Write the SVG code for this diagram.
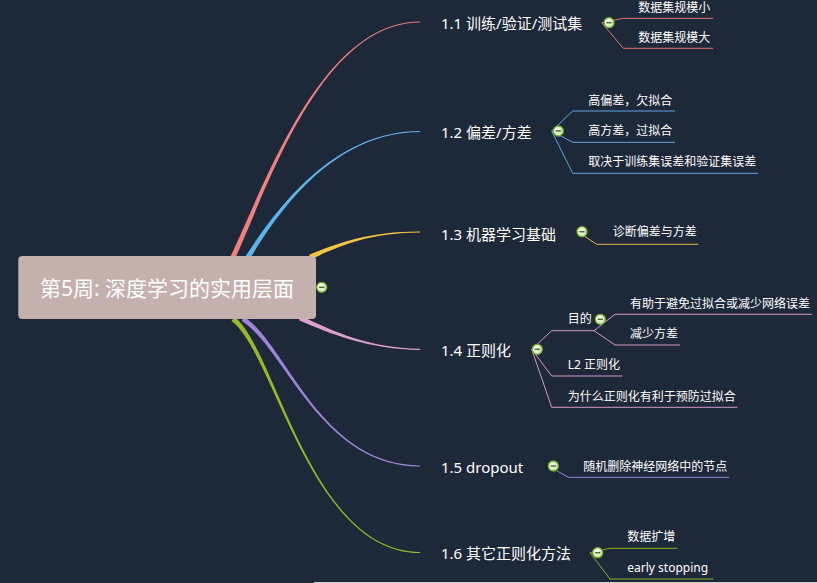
<svg xmlns="http://www.w3.org/2000/svg" xmlns:xlink="http://www.w3.org/1999/xlink" width="817" height="583" viewBox="0 0 817 583">
<style>
.main{font-family:"Noto Sans","Noto Sans CJK SC",sans-serif;font-size:15px;fill:#ffffff}
.sub{font-family:"Noto Sans","Noto Sans CJK SC",sans-serif;font-size:12px;fill:#ffffff}
.root{font-family:"Noto Sans","Noto Sans CJK SC",sans-serif;font-size:21px;fill:#ffffff}
.ln{fill:none;stroke-width:1}
.c1{stroke:#e37474}.c2{stroke:#5aa8e0}.c3{stroke:#e8b650}.c4{stroke:#d49ac4}.c5{stroke:#9a80d2}.c6{stroke:#8fb021}
</style>
<defs>
<radialGradient id="gb" cx="0.4" cy="0.4" r="0.7">
<stop offset="0" stop-color="#ffffff"/>
<stop offset="1" stop-color="#c5e29a"/>
</radialGradient>
<g id="minus">
<circle r="5" fill="url(#gb)" stroke="#6fae2e" stroke-width="1.3"/>
<line x1="-2.6" y1="0" x2="2.6" y2="0" stroke="#4b6b2c" stroke-width="1.5"/>
</g>
</defs>
<rect width="817" height="583" fill="#1d2838"/>
<rect x="314" y="582" width="503" height="1" fill="#cfcfcf"/>

<g id="connectors">
<path d="M235.3,258.1 C266.6,190.8 320,22.7 420,22.6 L420,21.4 C320,21.3 263.4,189.2 230.7,255.9 Z" fill="#f07f7f"/>
<path d="M250.1,258.4 C276.5,216 330,132.7 420,132.1 L420,130.9 C330,131.3 273.5,214 245.9,255.6 Z" fill="#5db3ec"/>
<path d="M310.9,259.3 C340.7,245.6 370,232.7 420,232.6 L420,231.4 C370,231.3 339.3,242.4 309.1,254.7 Z" fill="#f6c445"/>
<path d="M298.9,320.3 C329.3,333.5 370,349.7 420,349.9 L420,348.7 C370,348.3 330.7,330.5 301.1,315.7 Z" fill="#dba0cf"/>
<path d="M241.7,321.1 C284.1,346.4 320,466.7 420,466.6 L420,465.4 C320,465.3 285.9,343.6 244.3,316.9 Z" fill="#9d84d8"/>
<path d="M231.5,321 C274,351.3 310,553.2 420,553.1 L420,551.9 C310,551.8 276,348.7 234.5,317 Z" fill="#98b828"/>

<path class="ln c1" d="M601.7,22.7 L623.3,18.3 L713.3,18.3"/>
<path class="ln c1" d="M601.7,22.7 L623.3,48.3 L713.3,48.3"/>

<path class="ln c2" d="M551.7,131 L572.7,111 L675,111"/>
<path class="ln c2" d="M551.7,131 L572.7,142.3 L675,142.3"/>
<path class="ln c2" d="M551.7,131 L572.7,173.3 L758,173.3"/>

<path class="ln c3" d="M576.7,231 L596.7,244.3 L698.3,244.3"/>

<path class="ln c4" d="M531.7,349.3 L551.7,330.7 L595,330.7"/>
<path class="ln c4" d="M594,330.7 L615,314.3 L812,314.3"/>
<path class="ln c4" d="M594,330.7 L615,345 L680,345"/>
<path class="ln c4" d="M531.7,349.3 L551.7,376 L622.3,376"/>
<path class="ln c4" d="M531.7,349.3 L551.7,407.3 L737.3,407.3"/>

<path class="ln c5" d="M548.3,466 L568.3,477.3 L729.3,477.3"/>

<path class="ln c6" d="M590,552.7 L610,548.3 L677.3,548.3"/>
<path class="ln c6" d="M590,552.7 L610,579 L713.3,579"/>
</g>

<g id="root">
<rect x="18.3" y="256" width="297.7" height="63" rx="4" fill="#c4b1ad"/>
<text class="root" x="167" y="296" text-anchor="middle">第5周: 深度学习的实用层面</text>
<use xlink:href="#minus" x="321.7" y="287.3"/>
</g>

<g id="n1-1">
<text class="main" x="441" y="28.5">1.1 训练/验证/测试集</text>
<use xlink:href="#minus" x="609" y="22.7"/>
</g>
<g id="n1-1-a"><text class="sub" x="638.3" y="12">数据集规模小</text></g>
<g id="n1-1-b"><text class="sub" x="638.3" y="42">数据集规模大</text></g>

<g id="n1-2">
<text class="main" x="441" y="137.5">1.2 偏差/方差</text>
<use xlink:href="#minus" x="558.3" y="131"/>
</g>
<g id="n1-2-a"><text class="sub" x="588.3" y="104.7">高偏差，欠拟合</text></g>
<g id="n1-2-b"><text class="sub" x="588.3" y="135">高方差，过拟合</text></g>
<g id="n1-2-c"><text class="sub" x="588.3" y="166">取决于训练集误差和验证集误差</text></g>

<g id="n1-3">
<text class="main" x="441" y="239.5">1.3 机器学习基础</text>
<use xlink:href="#minus" x="582" y="231.7"/>
</g>
<g id="n1-3-a"><text class="sub" x="612.7" y="235.8">诊断偏差与方差</text></g>

<g id="n1-4">
<text class="main" x="441" y="356">1.4 正则化</text>
<use xlink:href="#minus" x="537.3" y="349.3"/>
</g>
<g id="n1-4-a">
<text class="sub" x="567.7" y="322.5">目的</text>
<use xlink:href="#minus" x="600.3" y="319.3"/>
</g>
<g id="n1-4-a-1"><text class="sub" x="630" y="307.5">有助于避免过拟合或减少网络误差</text></g>
<g id="n1-4-a-2"><text class="sub" x="630" y="337.5">减少方差</text></g>
<g id="n1-4-b"><text class="sub" x="567.7" y="369">L2 正则化</text></g>
<g id="n1-4-c"><text class="sub" x="567.7" y="400.7">为什么正则化有利于预防过拟合</text></g>

<g id="n1-5">
<text class="main" x="441" y="473">1.5 dropout</text>
<use xlink:href="#minus" x="553.3" y="466"/>
</g>
<g id="n1-5-a"><text class="sub" x="583.3" y="470.8">随机删除神经网络中的节点</text></g>

<g id="n1-6">
<text class="main" x="441" y="559">1.6 其它正则化方法</text>
<use xlink:href="#minus" x="597.7" y="552.7"/>
</g>
<g id="n1-6-a"><text class="sub" x="627.3" y="540.8">数据扩增</text></g>
<g id="n1-6-b"><text class="sub" x="627.3" y="572.3">early stopping</text></g>
</svg>
